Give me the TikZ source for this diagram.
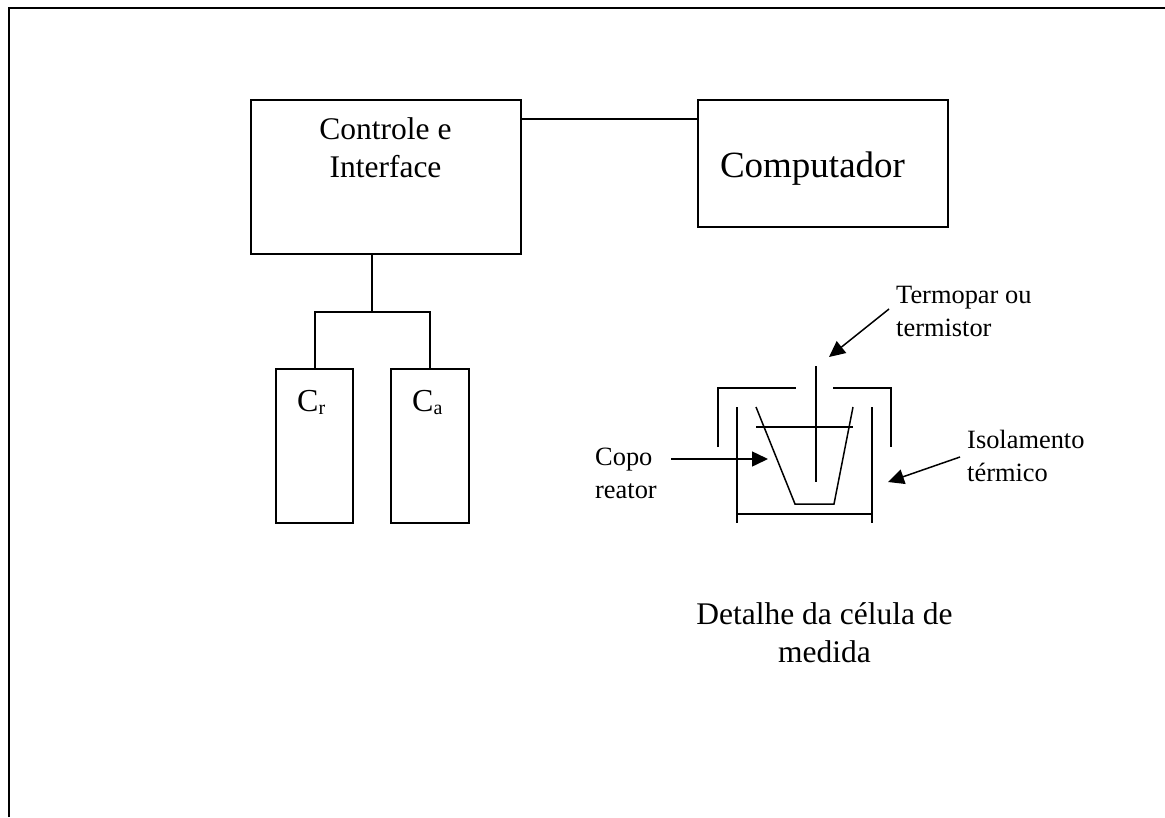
\documentclass[tikz,border=0pt]{standalone}
\usepackage{fontspec}
\setmainfont{Liberation Serif}
\usetikzlibrary{arrows.meta}
\tikzset{
  x=1pt,y=-1pt,
  ln/.style={draw=black,line width=1.5pt},
  frameln/.style={draw=black,line width=2pt},
  arr/.style={ln,-{Triangle[length=16pt,width=15pt]}},
  boxn/.style={ln,inner sep=0pt,outer sep=0pt,anchor=north west},
  lab/.style={inner sep=0pt,align=center,anchor=center,font=\fontsize{31.5}{38}\selectfont},
  sm/.style={inner sep=0pt,align=left,anchor=west,font=\fontsize{26.4}{33}\selectfont},
  capn/.style={inner sep=0pt,anchor=base west,font=\fontsize{32}{38}\selectfont}
}
\newcommand{\subt}[1]{\raisebox{-3pt}{\fontsize{20}{24}\selectfont #1}}
\begin{document}
\begin{tikzpicture}
\useasboundingbox (0,0) rectangle (1165,817);
\fill[white] (0,0) rectangle (1165,817);
\coordinate (fa) at (9,817);
\coordinate (fb) at (9,8);
\coordinate (fc) at (1165,8);
\draw[frameln] (fa) -- (fb) -- (fc);
\node[boxn,minimum width=270pt,minimum height=154pt] (ctrl) at (251,100) {};
\node[lab] (ctrlt) at (385.5,148) {Controle e\\Interface};
\node[boxn,minimum width=250pt,minimum height=127pt] (comp) at (698,100) {};
\node[inner sep=0pt,anchor=base,font=\fontsize{37}{44}\selectfont] (compt) at (812.5,177) {Computador};
\node[boxn,minimum width=77pt,minimum height=154pt] (cr) at (276,369) {};
\node[boxn,minimum width=78pt,minimum height=154pt] (ca) at (391,369) {};
\node[capn] (crt) at (297,411) {C\subt{r}};
\node[capn] (cat) at (412,411) {C\subt{a}};
\coordinate (ctrlout) at (ctrl.east |- 0,119);
\coordinate (compin) at (comp.west |- 0,119);
\draw[ln] (ctrlout) -- (compin);
\coordinate (j0) at (372,254);
\coordinate (j1) at (372,312);
\coordinate (j2) at (315,312);
\coordinate (j3) at (430,312);
\coordinate (j4) at (315,369);
\coordinate (j5) at (430,369);
\draw[ln] (j0) -- (j1);
\draw[ln] (j4) -- (j2) -- (j3) -- (j5);
% cell
\draw[ln] (718,447) -- (718,388) -- (796,388);
\draw[ln] (833,388) -- (891,388) -- (891,447);
\draw[ln] (737,407) -- (737,523);
\draw[ln] (872,407) -- (872,523);
\draw[ln] (737,514) -- (872,514);
\draw[ln] (756,407) -- (795,504) -- (834,504) -- (853,407);
\draw[ln] (756,427) -- (853,427);
\draw[ln] (816,366) -- (816,482);
\node[sm] (term) at (896,311) {Termopar ou\\termistor};
\node[sm] (isol) at (967,456) {Isolamento\\térmico};
\node[sm] (copo) at (595,473) {Copo\\reator};
\coordinate (a1s) at (889,309);
\coordinate (a1e) at (829,357);
\coordinate (a2s) at (671,459);
\coordinate (a2e) at (768,459);
\coordinate (a3s) at (960,457);
\coordinate (a3e) at (888,482);
\draw[arr] (a1s) -- (a1e);
\draw[arr] (a2s) -- (a2e);
\draw[arr] (a3s) -- (a3e);
\node[lab] (det) at (824.5,633) {Detalhe da célula de\\medida};
\end{tikzpicture}
\end{document}
